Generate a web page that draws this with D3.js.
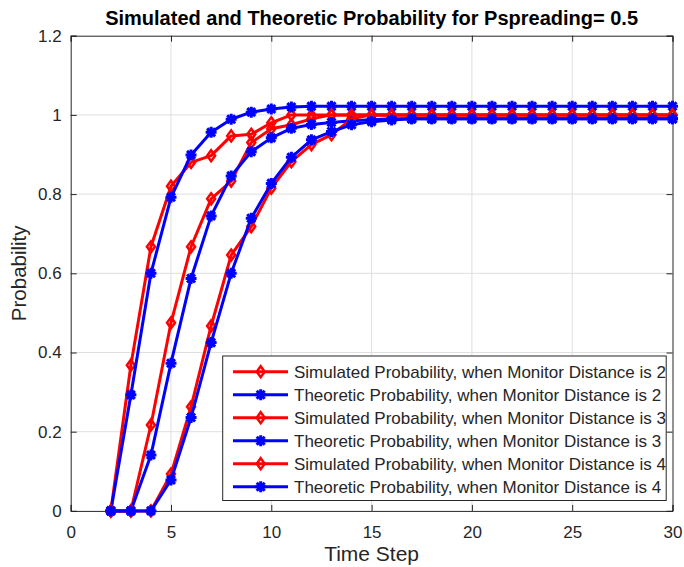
<!DOCTYPE html>
<html><head><meta charset="utf-8">
<script src="https://cdn.jsdelivr.net/npm/d3@7"></script>
<style>body{margin:0;background:#fff;overflow:hidden}</style>
</head><body><svg id="c" width="684" height="567"></svg>
<script>
const timeSteps = [2,3,4,5,6,7,8,9,10,11,12,13,14,15,16,17,18,19,20,21,22,23,24,25,26,27,28,29,30];
const simD2   = [0,0.368,0.667,0.82,0.88,0.897,0.947,0.951,0.98,1.0, 1,1,1,1,1,1,1,1,1,1,1,1,1,1,1,1,1,1,1];
const theoD2  = [0,0.293,0.60,0.792,0.899,0.956,0.989,1.007,1.015,1.02, 1.022,1.022,1.022,1.022,1.022,1.022,1.022,1.022,1.022,1.022,1.022,1.022,1.022,1.022,1.022,1.022,1.022,1.022,1.022];
const simD3   = [0,0,0.217,0.475,0.667,0.788,0.833,0.93,0.965,0.975, 0.99,1.0,1,1,1,1,1,1,1,1,1,1,1,1,1,1,1,1,1];
const theoD3  = [0,0,0.141,0.373,0.587,0.745,0.846,0.907,0.942,0.966, 0.976,0.981,0.985,0.988,0.99,0.99,0.99,0.99,0.99,0.99,0.99,0.99,0.99,0.99,0.99,0.99,0.99,0.99,0.99];
const simD4   = [0,0,0,0.093,0.263,0.467,0.646,0.718,0.815,0.882, 0.925,0.95,0.99,1.0,1,1,1,1,1,1,1,1,1,1,1,1,1,1,1];
const theoD4  = [0,0,0,0.078,0.236,0.425,0.60,0.739,0.827,0.893, 0.937,0.958,0.975,0.983,0.987,0.99,0.99,0.99,0.99,0.99,0.99,0.99,0.99,0.99,0.99,0.99,0.99,0.99,0.99];
const xTicks = [0,5,10,15,20,25,30];
const yTicks = [0,0.2,0.4,0.6,0.8,1,1.2];
const yTickLabels = ["0","0.2","0.4","0.6","0.8","1","1.2"];
const seriesNames = [
  "Simulated Probability, when Monitor Distance is 2",
  "Theoretic Probability, when Monitor Distance is 2",
  "Simulated Probability, when Monitor Distance is 3",
  "Theoretic Probability, when Monitor Distance is 3",
  "Simulated Probability, when Monitor Distance is 4",
  "Theoretic Probability, when Monitor Distance is 4"];
const seriesValues = [simD2, theoD2, simD3, theoD3, simD4, theoD4];
const seriesKinds = ["sim","theo","sim","theo","sim","theo"];
const titleText = "Simulated and Theoretic Probability for Pspreading= 0.5";

const FONT = "'Liberation Sans',Arial,sans-serif";
const svg = d3.select("#c");
const L = 70.7, R = 672.5, T = 35.7, B = 510.9;
const x = d3.scaleLinear().domain([0,30]).range([L,R]);
const y = d3.scaleLinear().domain([0,1.2]).range([B,T]);
const axisColor = "#262626";

// grid
const g = svg.append("g");
g.selectAll(".gx").data(xTicks.slice(1,-1)).join("line")
  .attr("x1",d=>x(d)).attr("x2",d=>x(d)).attr("y1",T).attr("y2",B)
  .attr("stroke","#dfdfdf").attr("stroke-width",1);
g.selectAll(".gy").data(yTicks.slice(1,-1)).join("line")
  .attr("x1",L).attr("x2",R).attr("y1",d=>y(d)).attr("y2",d=>y(d))
  .attr("stroke","#dfdfdf").attr("stroke-width",1);

// axes
const xAxis = d3.axisBottom(x).tickValues(xTicks).tickSize(-6).tickPadding(15).tickFormat(d3.format("d"));
const yAxis = d3.axisLeft(y).tickValues(yTicks).tickSize(-6).tickPadding(9).tickFormat((d,i)=>yTickLabels[i]);
const xTop = d3.axisTop(x).tickValues(xTicks).tickSize(-6).tickFormat("");
const yRight = d3.axisRight(y).tickValues(yTicks).tickSize(-6).tickFormat("");
function style(sel){
  sel.selectAll("path").attr("stroke",axisColor).attr("stroke-width",1);
  sel.selectAll("line").attr("stroke",axisColor);
  sel.selectAll("text").attr("fill",axisColor).style("font-family",FONT).style("font-size","17px");
}
svg.append("g").attr("transform",`translate(0,${B})`).call(xAxis).call(style);
svg.append("g").attr("transform",`translate(${L},0)`).call(yAxis).call(style);
svg.append("g").attr("transform",`translate(0,${T})`).call(xTop).call(style);
svg.append("g").attr("transform",`translate(${R},0)`).call(yRight).call(style);

// markers
function diamond(sel){
  sel.append("path").attr("d","M0,-5.5L4,0L0,5.5L-4,0Z")
    .attr("fill","none").attr("stroke","#ff0000").attr("stroke-width",2.5);
}
function star(sel){
  sel.append("path").attr("d","M-5.5,0L5.5,0M0,-5.5L0,5.5M-4,-4L4,4M-4,4L4,-4")
    .attr("fill","none").attr("stroke","#0000ff").attr("stroke-width",3);
}
const line = d3.line().x(d=>x(d[0])).y(d=>y(d[1]));
const plot = svg.append("g");
seriesValues.forEach((vals,i)=>{
  const pts = timeSteps.map((t,j)=>[t,vals[j]]);
  const col = seriesKinds[i]==="sim" ? "#ff0000" : "#0000ff";
  const sg = plot.append("g");
  sg.append("path").attr("d",line(pts)).attr("fill","none").attr("stroke",col).attr("stroke-width",3).attr("stroke-linejoin","round");
  sg.selectAll("g.m").data(pts).join("g").attr("class","m")
    .attr("transform",d=>`translate(${x(d[0])},${y(d[1])})`)
    .each(function(){ seriesKinds[i]==="sim" ? diamond(d3.select(this)) : star(d3.select(this)); });
});

// legend
const lg = svg.append("g");
const lx = 222.7, ly = 356, lw = 443.5, lh = 144.5;
lg.append("rect").attr("x",lx).attr("y",ly).attr("width",lw).attr("height",lh)
  .attr("fill","#fff").attr("stroke",axisColor).attr("stroke-width",1);
seriesNames.forEach((name,i)=>{
  const ry = 371.7 + i*23;
  const col = seriesKinds[i]==="sim" ? "#ff0000" : "#0000ff";
  const eg = lg.append("g");
  eg.append("line").attr("x1",233).attr("x2",288).attr("y1",ry).attr("y2",ry).attr("stroke",col).attr("stroke-width",3);
  const mg = eg.append("g").attr("transform",`translate(260.7,${ry})`);
  seriesKinds[i]==="sim" ? diamond(mg) : star(mg);
  eg.append("text").attr("x",294).attr("y",ry).attr("dy","0.35em")
    .attr("fill",axisColor).style("font-family",FONT).style("font-size","17px").text(name);
});

// title & labels
svg.append("text").attr("x",(L+R)/2).attr("y",25).attr("text-anchor","middle")
  .attr("fill","#000").style("font-family",FONT).style("font-size","20px").style("font-weight","bold").text(titleText);
svg.append("text").attr("x",(L+R)/2).attr("y",561).attr("text-anchor","middle")
  .attr("fill",axisColor).style("font-family",FONT).style("font-size","21px").text("Time Step");
svg.append("text").attr("transform",`translate(26,${(T+B)/2}) rotate(-90)`).attr("text-anchor","middle")
  .attr("fill",axisColor).style("font-family",FONT).style("font-size","20.5px").text("Probability");
</script></body></html>
